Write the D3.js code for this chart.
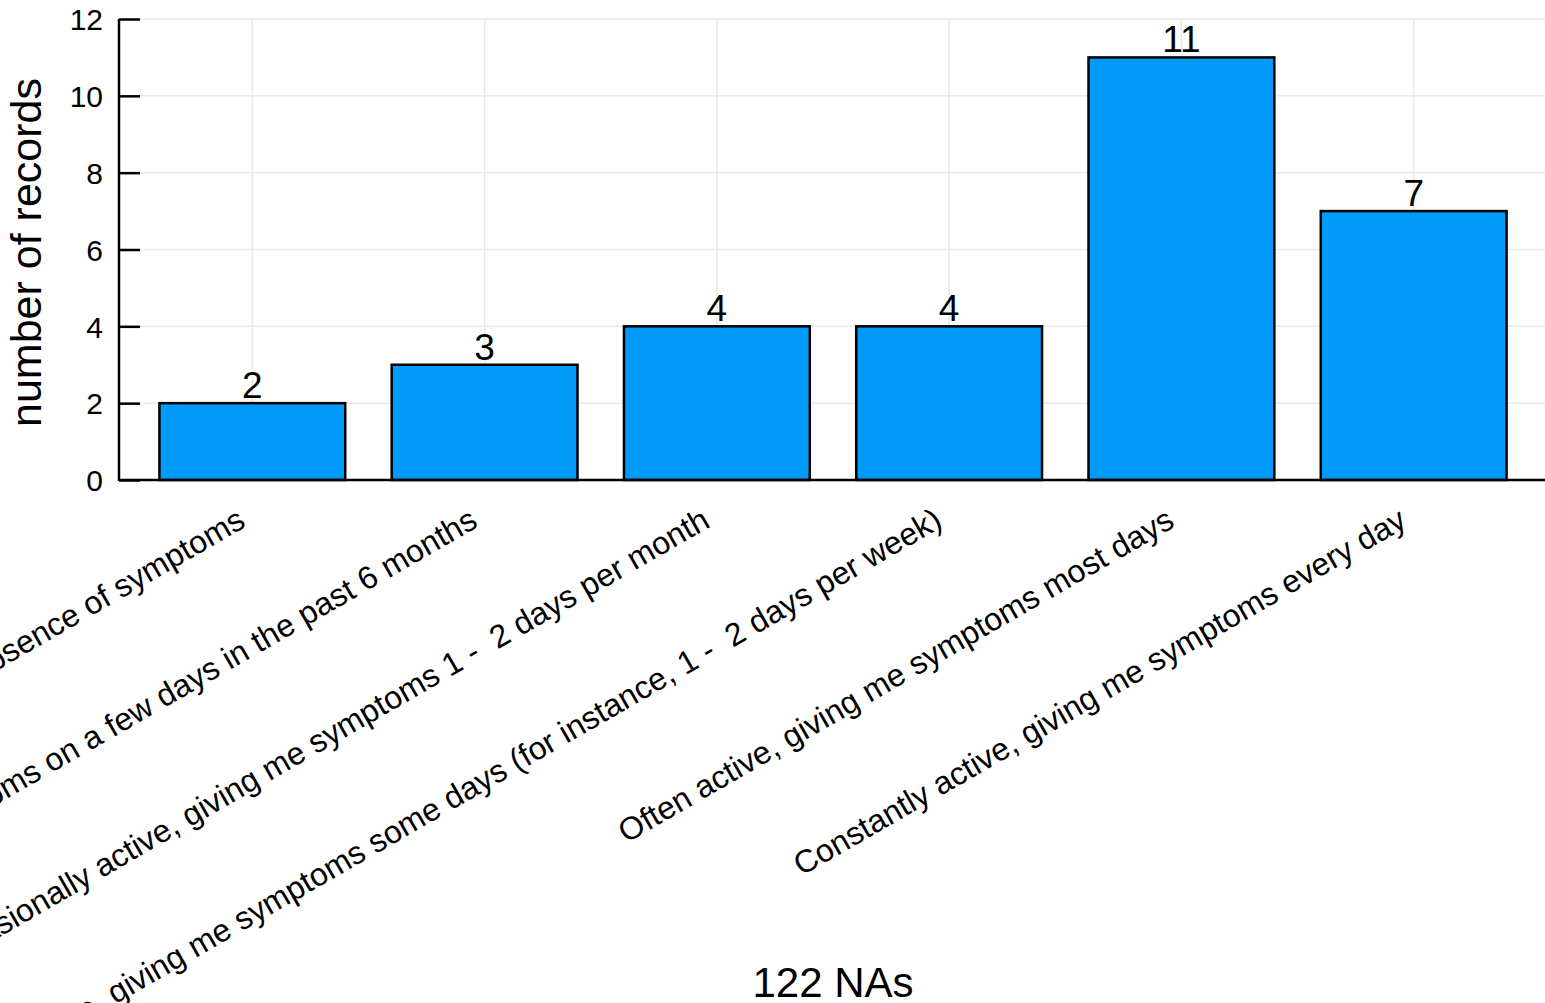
<!DOCTYPE html>
<html>
<head>
<meta charset="utf-8">
<script src="https://cdn.jsdelivr.net/npm/d3@7"></script>
<style>
  html, body { margin: 0; padding: 0; background: #fff; }
  svg { display: block; font-family: "Liberation Sans", Arial, Helvetica, sans-serif; }
</style>
</head>
<body>
<svg id="chart" width="1545" height="1003"></svg>
<script>
const categories = [
  "Inactive, with complete absence of symptoms",
  "Rarely active, giving me symptoms on a few days in the past 6 months",
  "Occasionally active, giving me symptoms 1 -  2 days per month",
  "Sometimes active, giving me symptoms some days (for instance, 1 -  2 days per week)",
  "Often active, giving me symptoms most days",
  "Constantly active, giving me symptoms every day"
];
const counts = [2, 3, 4, 4, 11, 7];
const yTicks = [0, 2, 4, 6, 8, 10, 12];
const yTitle = "number of records";
const xTitle = "122 NAs";

(function () {
const svg = d3.select("#chart");
const mLeft = 119, mRight = 1547, mTop = 19, mBottom = 480;
const barFrac = 0.8;

// bar i spans [i + 0.1, i + 0.9]; limits padded like Plots.jl
const x = d3.scaleLinear().domain([-0.074, 6.074]).range([mLeft, mRight]);
const y = d3.scaleLinear().domain([0, 12]).range([mBottom, mTop]);
const centers = categories.map((c, i) => i + 0.5);

// grid
const grid = svg.append("g");
grid.selectAll("line.h").data(yTicks).join("line")
  .attr("class", "h")
  .attr("x1", mLeft).attr("x2", mRight)
  .attr("y1", d => y(d)).attr("y2", d => y(d))
  .attr("stroke", "#e9e9e9").attr("stroke-width", 1.5);
grid.selectAll("line.v").data(centers).join("line")
  .attr("class", "v")
  .attr("x1", d => x(d)).attr("x2", d => x(d))
  .attr("y1", mTop).attr("y2", mBottom)
  .attr("stroke", "#e9e9e9").attr("stroke-width", 1.5);

// y axis
const yAxis = d3.axisRight(y).tickValues(yTicks).tickSize(21).tickFormat(d3.format("d"));
const yg = svg.append("g").attr("transform", `translate(${mLeft},0)`).call(yAxis);
yg.select(".domain").remove();
yg.selectAll(".tick line").attr("stroke", "#000").attr("stroke-width", 2.5);
yg.selectAll(".tick text")
  .attr("x", -16).attr("text-anchor", "end").attr("dy", "0.36em")
  .attr("font-size", 30).attr("fill", "#000");

// bars
svg.append("g").selectAll("rect").data(counts).join("rect")
  .attr("x", (d, i) => x(i + (1 - barFrac) / 2))
  .attr("width", (d, i) => x(i + (1 + barFrac) / 2) - x(i + (1 - barFrac) / 2))
  .attr("y", d => y(d))
  .attr("height", d => y(0) - y(d))
  .attr("fill", "#009AFA")
  .attr("stroke", "#000").attr("stroke-width", 2.5);

// value annotations
svg.append("g").selectAll("text").data(counts).join("text")
  .attr("x", (d, i) => x(centers[i]))
  .attr("y", d => y(d) - 5)
  .attr("text-anchor", "middle")
  .attr("font-size", 37)
  .attr("fill", "#000")
  .text(d => d);

// axis lines
svg.append("line").attr("x1", mLeft).attr("x2", mLeft).attr("y1", mTop).attr("y2", mBottom + 1)
  .attr("stroke", "#000").attr("stroke-width", 2.5);
svg.append("line").attr("x1", mLeft).attr("x2", mRight).attr("y1", mBottom).attr("y2", mBottom)
  .attr("stroke", "#000").attr("stroke-width", 2.5);

// category labels
svg.append("g").selectAll("text").data(categories).join("text")
  .attr("transform", (d, i) => `translate(${x(centers[i]) - 11},${mBottom + 36}) rotate(-30)`)
  .attr("text-anchor", "end")
  .attr("dy", "0.36em")
  .attr("font-size", 32)
  .attr("fill", "#000")
  .style("white-space", "pre")
  .text(d => d);

// axis titles
svg.append("text")
  .attr("transform", `translate(${41},${(mTop + mBottom) / 2 + 3}) rotate(-90)`)
  .attr("text-anchor", "middle")
  .attr("font-size", 43).attr("fill", "#000")
  .text(yTitle);
svg.append("text")
  .attr("x", (mLeft + mRight) / 2).attr("y", 997)
  .attr("text-anchor", "middle")
  .attr("font-size", 42).attr("fill", "#000")
  .text(xTitle);
})();
</script>
</body>
</html>
